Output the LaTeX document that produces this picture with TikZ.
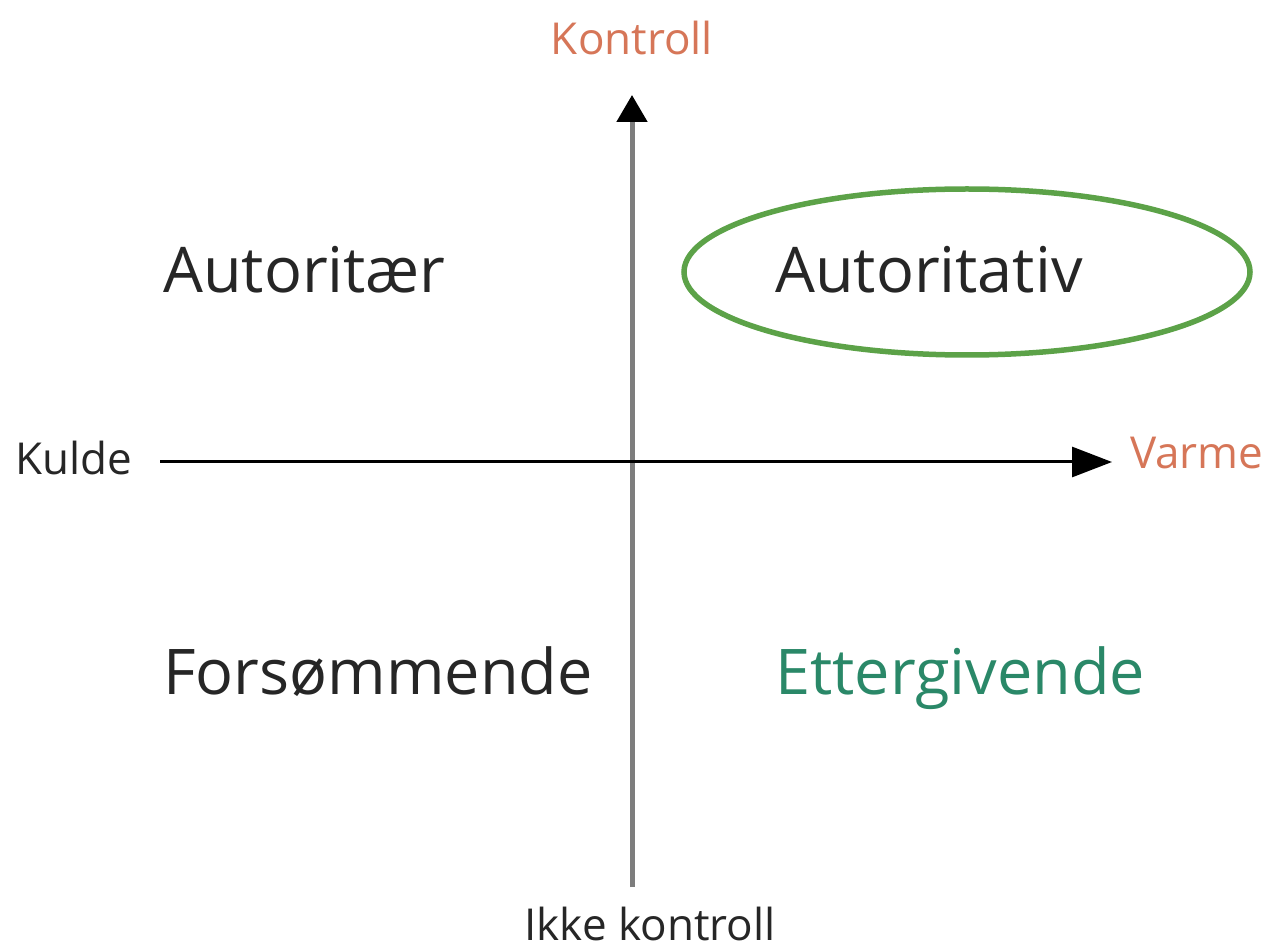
\documentclass[tikz,border=0pt]{standalone}
\usepackage{fontspec}
\setmainfont{Open Sans}
\usetikzlibrary{arrows.meta,positioning,shapes.geometric}

\definecolor{axisgray}{RGB}{125,125,125}
\definecolor{poleorange}{RGB}{214,118,88}
\definecolor{ringgreen}{RGB}{92,162,72}
\definecolor{styleteal}{RGB}{42,136,104}

\tikzset{
    bigstyle/.style={anchor=base west, inner sep=0pt, font=\fontsize{63}{70}\selectfont, text=black!85},
    polelabel/.style={inner sep=0pt, font=\fontsize{44}{50}\selectfont},
}

\begin{document}
\begin{tikzpicture}[x=1pt, y=-1pt]
    \useasboundingbox (0,0) rectangle (1283,949);

    % Axis end points
    \coordinate (ctrlLow)  at (632,887);
    \coordinate (ctrlHigh) at (632,95);
    \coordinate (warmLow)  at (160,462);
    \coordinate (warmHigh) at (1112,462);

    % Control axis (gray shaft, black tip)
    \draw[axisgray, line width=5pt, -{Triangle[length=27pt, width=30pt, color=black, fill=black]}] (ctrlLow) -- (ctrlHigh);

    % Warmth axis (black, horizontal)
    \draw[black, line width=3pt, -{Triangle[length=40pt, width=30pt]}] (warmLow) -- (warmHigh);

    % Pole labels
    \node[polelabel, anchor=base, text=poleorange] (kontroll) at (632,55) {Kontroll};
    \node[polelabel, anchor=base, text=black!85] (ikkeKontroll) at (650,940) {Ikke kontroll};
    \node[polelabel, anchor=base west, text=black!85] (kulde) at (15,475) {Kulde};
    \node[polelabel, anchor=base west, text=poleorange] (varme) at (1130,469) {Varme};

    % Parenting styles
    \node[bigstyle] (autoritaer) at (163,293) {Autoritær};
    \node[bigstyle] (autoritativ) at (775,293) {Autoritativ};
    \node[bigstyle] (forsommende) at (163,694) {Forsømmende};
    \node[bigstyle, text=styleteal] (ettergivende) at (775,694) {Ettergivende};

    % Highlight ring
    \node[ellipse, draw=ringgreen, line width=5.5pt, minimum width=566pt, minimum height=166pt] (ring) at (967,272) {};

\end{tikzpicture}
\end{document}
